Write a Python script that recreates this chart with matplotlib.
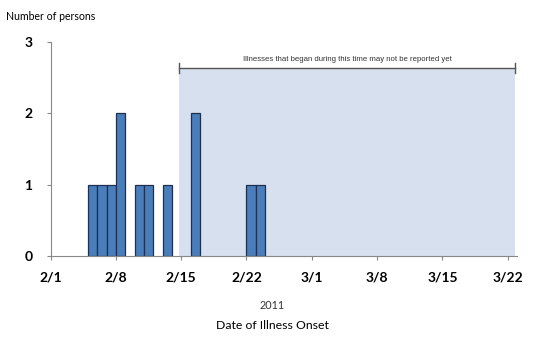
import numpy as np
import matplotlib
matplotlib.use("Agg")
import matplotlib.pyplot as plt

# onset days (days after 2/1/2011) and counts
onset_day = [4, 5, 6, 7, 9, 10, 12, 15, 21, 22]
persons = [1, 1, 1, 2, 1, 1, 1, 2, 1, 1]

tick_days = [0, 7, 14, 21, 28, 35, 42, 49]
tick_labels = ["2/1", "2/8", "2/15", "2/22", "3/1", "3/8", "3/15", "3/22"]

# reporting delay window
lag_start = 13.75
lag_end = 49.8
lag_top = 2.63

plt.rcParams['font.family'] = ['Lato', 'DejaVu Sans']

fig = plt.figure(figsize=(5.5, 3.63), dpi=100)
ax = fig.add_axes([0.092, 0.295, 0.848, 0.589])

ax.axvspan(lag_start, lag_end, ymin=0, ymax=lag_top / 3, color="#d6e0ef", zorder=0, lw=0)
ax.bar(onset_day, persons, width=1.0, align="edge", color="#4a7ebb",
       edgecolor="#1f2f4f", linewidth=0.9, zorder=2)

# bracket over the window
ax.plot([lag_start, lag_end], [lag_top, lag_top], color="#555555", lw=1, zorder=3, clip_on=False)
for xe in (lag_start, lag_end):
    ax.plot([xe, xe], [lag_top - 0.07, lag_top + 0.07], color="#555555", lw=1, zorder=3, clip_on=False)
ax.text((lag_start + lag_end) / 2, lag_top + 0.13,
        "Illnesses that began during this time may not be reported yet",
        ha="center", va="center", fontsize=5.6, color="#333333", family="Liberation Sans")

ax.set_xlim(0, 50)
ax.set_ylim(0, 3)
ax.set_yticks([0, 1, 2, 3])
ax.set_xticks(tick_days)
ax.set_xticklabels(tick_labels)
for lab in ax.get_xticklabels() + ax.get_yticklabels():
    lab.set_fontweight("bold")
    lab.set_fontsize(10)
ax.tick_params(axis="both", colors="#888888", length=3, width=0.8, labelcolor="black")
ax.tick_params(axis="x", pad=8)
ax.tick_params(axis="y", pad=10)

for s in ("top", "right"):
    ax.spines[s].set_visible(False)
for s in ("left", "bottom"):
    ax.spines[s].set_color("#888888")
    ax.spines[s].set_linewidth(0.8)

fig.text(0.01, 0.955, "Number of persons", fontsize=7.6, ha="left", va="center")
fig.text(0.495, 0.158, "2011", fontsize=7.8, ha="center", va="center", color="#333333")
fig.text(0.495, 0.103, "Date of Illness Onset", fontsize=8.8, ha="center", va="center")

fig.savefig("out.png", dpi=100)
